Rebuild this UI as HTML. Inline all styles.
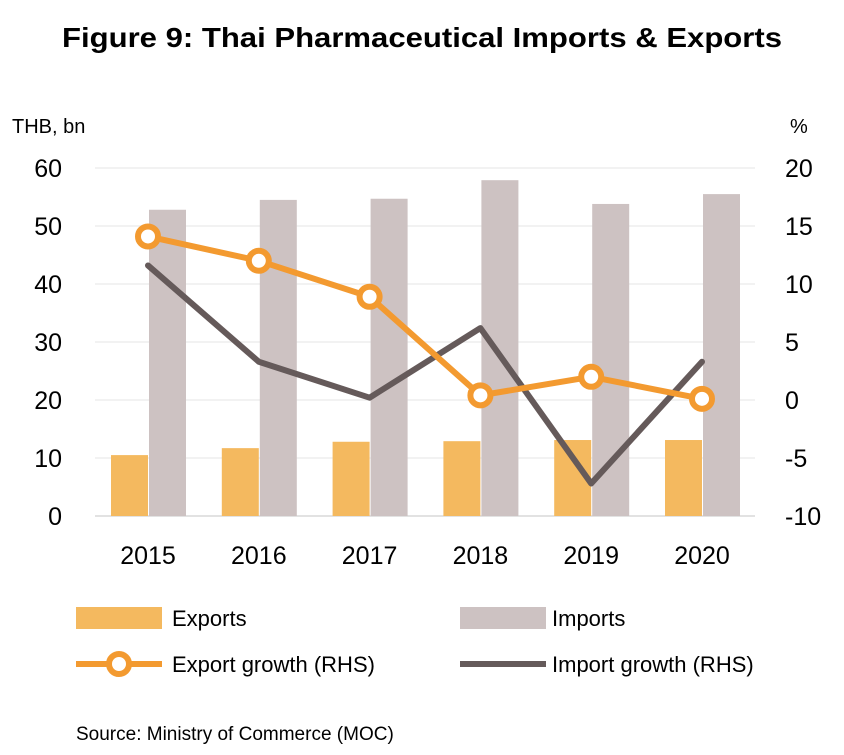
<!DOCTYPE html>
<html><head><meta charset="utf-8"><style>
body{margin:0;background:#fff;font-family:"Liberation Sans",Carlito,sans-serif;}
</style></head><body>
<svg width="844" height="750" id="c" font-family="Liberation Sans, sans-serif">
<text x="422" y="47" text-anchor="middle" font-size="28" font-weight="bold" fill="#000" textLength="720" lengthAdjust="spacingAndGlyphs">Figure 9: Thai Pharmaceutical Imports &amp; Exports</text>
<text x="12" y="133" font-size="20">THB, bn</text>
<text x="790" y="133" font-size="20">%</text>
<g id="grid"></g><g id="bars"></g><g id="lines"></g><g id="axes"></g>
<g font-size="22">
<rect x="76" y="607" width="86" height="22" fill="#f4b95f"/>
<text x="172" y="626">Exports</text>
<rect x="460" y="607" width="86" height="22" fill="#cdc2c2"/>
<text x="552" y="626">Imports</text>
<line x1="76" y1="664" x2="162" y2="664" stroke="#f39a30" stroke-width="6"/>
<circle cx="119" cy="664" r="10" fill="#fff" stroke="#f39a30" stroke-width="6"/>
<text x="172" y="672">Export growth (RHS)</text>
<line x1="460" y1="664" x2="546" y2="664" stroke="#655a5a" stroke-width="6"/>
<text x="552" y="672">Import growth (RHS)</text>
</g>
<text x="76" y="740" font-size="19">Source: Ministry of Commerce (MOC)</text>
</svg>
<script>
const years=['2015','2016','2017','2018','2019','2020'];
const exportsVal=[10.5,11.7,12.8,12.9,13.1,13.1];
const importsVal=[52.8,54.5,54.7,57.9,53.8,55.5];
const exportGrowth=[14.1,12.0,8.9,0.4,2.0,0.1];
const importGrowth=[11.6,3.3,0.2,6.2,-7.2,3.3];
const leftTicks=[0,10,20,30,40,50,60];
const rightTicks=[-10,-5,0,5,10,15,20];
const NS='http://www.w3.org/2000/svg';
function mk(t,a,p){const e=document.createElementNS(NS,t);for(const k in a)e.setAttribute(k,a[k]);p.appendChild(e);return e;}
const y0=516,y1=168;
const yL=v=>y0-(v/60)*(y0-y1);
const yR=v=>y0-((v+10)/30)*(y0-y1);
const xC=i=>148+i*110.8;
const g=document.getElementById('grid'),b=document.getElementById('bars'),l=document.getElementById('lines'),ax=document.getElementById('axes');
leftTicks.forEach((t,i)=>{
 const gl=mk('line',{x1:95,x2:755,y1:yL(t),y2:yL(t),stroke:t===0?'#d9d9d9':'#eeeeee','stroke-width':1.5},g);
 
 
 const tx=mk('text',{x:62,y:yL(t)+9,'text-anchor':'end','font-size':25},ax);tx.textContent=t;
 
 
});
rightTicks.forEach(t=>{
 const tx=mk('text',{x:785,y:yR(t)+9,'font-size':25},ax);tx.textContent=t;
 
 
});
years.forEach((yr,i)=>{
 const c=xC(i);
 const e=mk('rect',{x:c-37,y:yL(exportsVal[i]),width:37,height:y0-yL(exportsVal[i]),fill:'#f4b95f'},b);
 
 
 const m=mk('rect',{x:c+1,y:yL(importsVal[i]),width:37,height:y0-yL(importsVal[i]),fill:'#cdc2c2'},b);
 
 
 const tx=mk('text',{x:c,y:564,'text-anchor':'middle','font-size':25},ax);tx.textContent=yr;
 
 
});
const ig=mk('polyline',{points:importGrowth.map((v,i)=>xC(i)+','+yR(v)).join(' '),fill:'none',stroke:'#655a5a','stroke-width':6,'stroke-linejoin':'round','stroke-linecap':'round'},l);


const eg=mk('polyline',{points:exportGrowth.map((v,i)=>xC(i)+','+yR(v)).join(' '),fill:'none',stroke:'#f39a30','stroke-width':6,'stroke-linejoin':'round'},l);


exportGrowth.forEach((v,i)=>{
 const c=mk('circle',{cx:xC(i),cy:yR(v),r:10,fill:'#fff',stroke:'#f39a30','stroke-width':6},l);
 
 
});
</script>
</body></html>
